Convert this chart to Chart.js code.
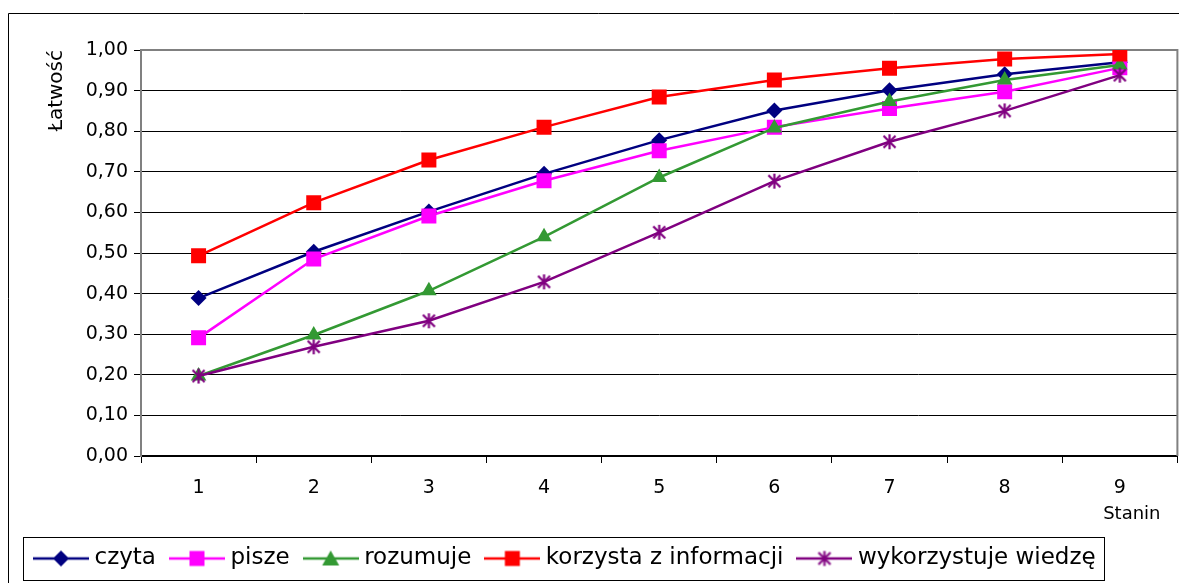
<!DOCTYPE html>
<html>
<head>
<meta charset="utf-8">
<script src="https://cdn.jsdelivr.net/npm/chart.js@4/dist/chart.umd.min.js"></script>
<style>
    html, body { margin: 0; padding: 0; background: #fff; overflow: hidden; }
    #wrap { width: 1179px; height: 583px; overflow: hidden; }
</style>
</head>
<body>
<div id="wrap"><canvas id="chart" width="1188" height="583"></canvas></div>
<script>
// Stanin categories and easiness values per skill
const stanins = ['1', '2', '3', '4', '5', '6', '7', '8', '9'];
const czyta = [0.389, 0.503, 0.602, 0.695, 0.778, 0.851, 0.901, 0.940, 0.970];
const pisze = [0.291, 0.485, 0.591, 0.678, 0.752, 0.810, 0.856, 0.897, 0.956];
const rozumuje = [0.197, 0.298, 0.407, 0.540, 0.686, 0.808, 0.873, 0.926, 0.963];
const korzysta = [0.493, 0.624, 0.729, 0.810, 0.884, 0.926, 0.955, 0.978, 0.990];
const wykorzystuje = [0.197, 0.269, 0.333, 0.429, 0.551, 0.677, 0.774, 0.850, 0.938];

const yTitle = 'Łatwość';
const xTitle = 'Stanin';
const FONT = 'DejaVu Sans';

// asterisk marker (vertical + X), like the Excel star
function starImage(color, size) {
    const c = document.createElement('canvas');
    c.width = size; c.height = size;
    const ctx = c.getContext('2d');
    const m = size / 2, r = size / 2 - 1;
    ctx.strokeStyle = color;
    ctx.lineWidth = 2.2;
    ctx.beginPath();
    ctx.moveTo(m, m - r); ctx.lineTo(m, m + r);
    ctx.moveTo(m - r * 0.8, m - r * 0.8); ctx.lineTo(m + r * 0.8, m + r * 0.8);
    ctx.moveTo(m + r * 0.8, m - r * 0.8); ctx.lineTo(m - r * 0.8, m + r * 0.8);
    ctx.stroke();
    return c;
}

// legend symbol: line with marker in the middle
function legendImage(color, shape) {
    const w = 56, h = 20;
    const c = document.createElement('canvas');
    c.width = w; c.height = h;
    const ctx = c.getContext('2d');
    const cx = w / 2, cy = h / 2;
    ctx.strokeStyle = color;
    ctx.fillStyle = color;
    ctx.lineWidth = 2.5;
    ctx.beginPath();
    ctx.moveTo(0, cy); ctx.lineTo(w, cy);
    ctx.stroke();
    ctx.beginPath();
    if (shape === 'diamond') {
        ctx.moveTo(cx, cy - 8); ctx.lineTo(cx + 8, cy); ctx.lineTo(cx, cy + 8); ctx.lineTo(cx - 8, cy);
        ctx.closePath(); ctx.fill();
    } else if (shape === 'square') {
        ctx.rect(cx - 7.5, cy - 7.5, 15, 15); ctx.fill();
    } else if (shape === 'triangle') {
        ctx.moveTo(cx, cy - 8); ctx.lineTo(cx + 8.5, cy + 7); ctx.lineTo(cx - 8.5, cy + 7);
        ctx.closePath(); ctx.fill();
    } else if (shape === 'star') {
        ctx.drawImage(starImage(color, 17), cx - 8.5, cy - 8.5);
    }
    return c;
}

const series = [
    { label: 'czyta', data: czyta, color: '#000080', style: 'rectRot', radius: 8, shape: 'diamond' },
    { label: 'pisze', data: pisze, color: '#FF00FF', style: 'rect', radius: 10.6, shape: 'square' },
    { label: 'rozumuje', data: rozumuje, color: '#339933', style: 'triangle', radius: 9, shape: 'triangle' },
    { label: 'korzysta z informacji', data: korzysta, color: '#FF0000', style: 'rect', radius: 10.6, shape: 'square' },
    { label: 'wykorzystuje wiedzę', data: wykorzystuje, color: '#800080', style: starImage('#800080', 17), radius: 8, shape: 'star' }
];

const datasets = series.map((s, i) => ({
    label: s.label,
    data: s.data,
    borderColor: s.color,
    backgroundColor: s.color,
    borderWidth: 2.5,
    pointStyle: s.style,
    pointRadius: s.radius,
    pointHoverRadius: s.radius,
    pointBorderWidth: 0,
    pointBackgroundColor: s.color,
    tension: 0,
    order: series.length - i
}));

const framePlugin = {
    id: 'frame',
    beforeDraw(chart) {
        const ctx = chart.ctx;
        ctx.save();
        ctx.fillStyle = '#fff';
        ctx.fillRect(0, 0, chart.width, chart.height);
        ctx.strokeStyle = '#000';
        ctx.lineWidth = 1;
        ctx.beginPath();
        ctx.moveTo(8.5, chart.height);
        ctx.lineTo(8.5, 13.5);
        ctx.lineTo(chart.width, 13.5);
        ctx.stroke();
        ctx.restore();
    },
    beforeDatasetsDraw(chart) {
        const {ctx, chartArea: a} = chart;
        ctx.save();
        ctx.strokeStyle = '#808080';
        ctx.lineWidth = 2;
        ctx.beginPath();
        ctx.moveTo(a.left, a.top);
        ctx.lineTo(a.right, a.top);
        ctx.lineTo(a.right, a.bottom);
        ctx.stroke();
        ctx.restore();
    },
    afterDraw(chart) {
        const ctx = chart.ctx;
        const x = chart.scales.x;
        ctx.save();
        ctx.fillStyle = '#000';
        // y axis title, rotated, aligned to the top of the axis
        ctx.font = '20px "' + FONT + '"';
        ctx.translate(62, chart.chartArea.top);
        ctx.rotate(-Math.PI / 2);
        ctx.textAlign = 'right';
        ctx.textBaseline = 'alphabetic';
        ctx.fillText(yTitle, 0, 0);
        ctx.restore();

        ctx.save();
        ctx.fillStyle = '#000';
        ctx.font = '18px "' + FONT + '"';
        ctx.textAlign = 'center';
        ctx.textBaseline = 'alphabetic';
        ctx.fillText(xTitle, x.getPixelForValue(stanins.length - 1) + 12, 519);
        ctx.restore();

        // legend box
        const boxes = chart.legend.legendHitBoxes;
        if (boxes && boxes.length) {
            const first = boxes[0], last = boxes[boxes.length - 1];
            ctx.save();
            ctx.strokeStyle = '#000';
            ctx.lineWidth = 1;
            ctx.strokeRect(Math.round(first.left - 16) + 0.5, Math.round(first.top - 10) + 0.5,
                Math.round(last.left + last.width + 8 - (first.left - 16)), 43);
            ctx.restore();
        }
    }
};

new Chart(document.getElementById('chart'), {
    type: 'line',
    data: { labels: stanins, datasets: datasets },
    options: {
        responsive: false,
        animation: false,
        layout: { padding: { left: 20, right: 3, top: 50, bottom: 3 } },
        plugins: {
            tooltip: { enabled: false },
            title: { display: false },
            legend: {
                position: 'bottom',
                align: 'start',
                labels: {
                    usePointStyle: true,
                    pointStyleWidth: 44,
                    padding: 19,
                    color: '#000',
                    font: { family: FONT, size: 23 },
                    generateLabels(chart) {
                        return series.map((s, i) => ({
                            text: s.label,
                            pointStyle: legendImage(s.color, s.shape),
                            fillStyle: s.color,
                            strokeStyle: s.color,
                            lineWidth: 0,
                            hidden: false,
                            datasetIndex: i,
                            fontColor: '#000'
                        }));
                    }
                }
            }
        },
        scales: {
            x: {
                offset: true,
                grid: {
                    offset: true,
                    drawOnChartArea: false,
                    drawTicks: true,
                    tickLength: 7,
                    tickColor: '#000',
                    tickWidth: 1
                },
                border: { color: '#000', width: 2 },
                ticks: {
                    color: '#000',
                    font: { family: FONT, size: 19 },
                    padding: 14,
                    maxRotation: 0
                },
                afterFit(scale) { scale.height = 72; }
            },
            y: {
                min: 0,
                max: 1,
                grid: {
                    color: '#000',
                    lineWidth: 1,
                    tickLength: 7,
                    tickColor: '#000'
                },
                border: { color: '#808080', width: 2 },
                ticks: {
                    stepSize: 0.1,
                    color: '#000',
                    padding: 6,
                    font: { family: FONT, size: 19 },
                    callback: (v) => v.toFixed(2).replace('.', ',')
                },
                afterFit(scale) { scale.width = 121; }
            }
        }
    },
    plugins: [framePlugin]
});
</script>
</body>
</html>
